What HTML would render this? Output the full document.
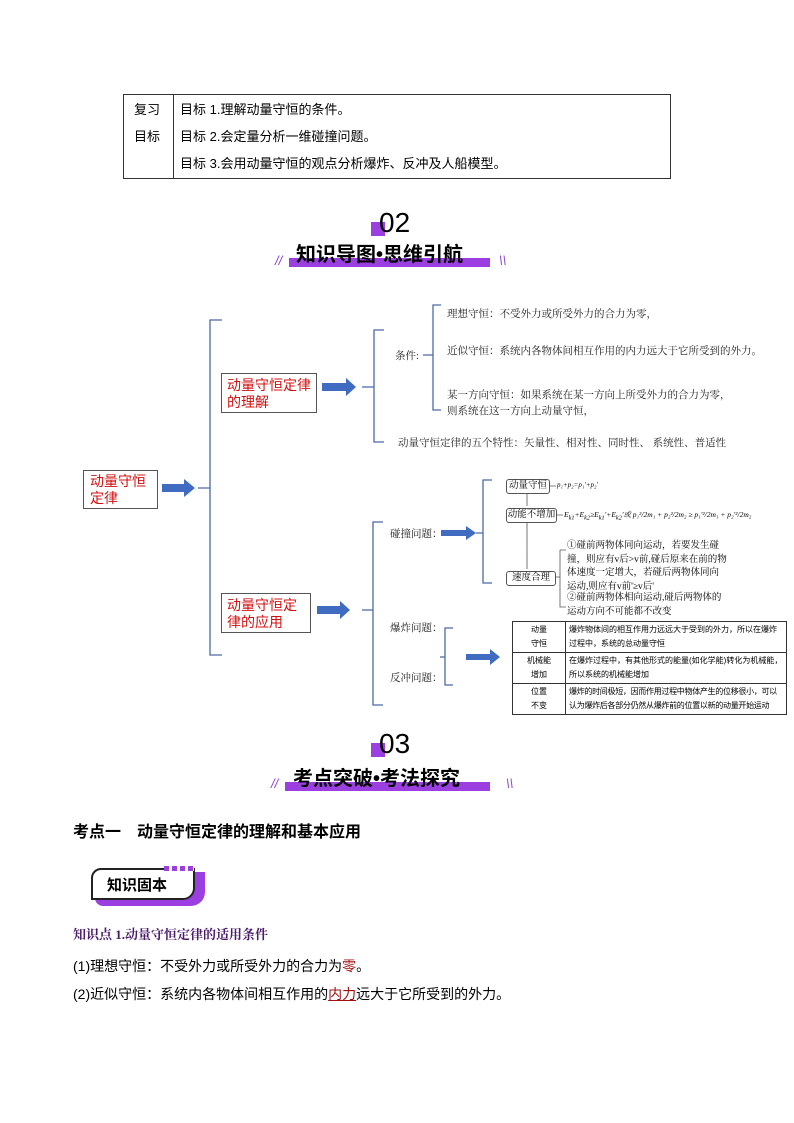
<!DOCTYPE html>
<html><head><meta charset="utf-8"><style>
body{margin:0;width:794px;height:1123px;background:#fff;position:relative;font-family:"Liberation Serif","Noto Serif CJK SC",serif;overflow:hidden}
.a{position:absolute;white-space:nowrap}
.s{font-family:"Liberation Sans","Noto Sans CJK SC",sans-serif}
.box{position:absolute;border:1px solid #555;background:#fff}
.red{color:#d01010;font-family:"Liberation Sans","Noto Sans CJK SC",sans-serif;font-size:14px;line-height:17px;white-space:nowrap}
.sm{font-size:10.5px;color:#222}
.t{table-layout:fixed}
.t td{border:1px solid #333;font-size:8px;padding:1px 3px;line-height:14px;height:27px;white-space:normal;font-family:"Liberation Sans","Noto Sans CJK SC",sans-serif;overflow:hidden}
</style></head><body>
<div class="a" style="left:123px;top:94px;width:546px;height:83px;border:1px solid #333"></div>
<div class="a" style="left:173px;top:94px;width:1px;height:84px;background:#333"></div>
<div class="a s" style="left:134px;top:96px;font-size:13px;line-height:27px">复习<br>目标</div>
<div class="a s" style="left:180px;top:96px;font-size:13px;line-height:27px">目标 1.理解动量守恒的条件。<br>目标 2.会定量分析一维碰撞问题。<br>目标 3.会用动量守恒的观点分析爆炸、反冲及人船模型。</div>
<div class="a" style="left:371px;top:222px;width:14px;height:14px;background:#9b3fe0"></div>
<div class="a s" style="left:379px;top:207px;font-size:28px;line-height:32px">02</div>
<div class="a" style="left:289px;top:258px;width:201px;height:9px;background:#9b3fe0"></div>
<div class="a s" style="left:296px;top:242px;font-size:20px;font-weight:bold;line-height:26px">知识导图•思维引航</div>
<div class="a s" style="left:275px;top:253px;font-size:13px;color:#8a3fd0;font-style:italic">//</div>
<div class="a s" style="left:499px;top:253px;font-size:13px;color:#8a3fd0;font-style:italic">\\</div>
<svg class="a" style="left:0;top:0" width="794" height="1123">
<g fill="none" stroke="#4a6aa8" stroke-width="1.3">
<path d="M222 320 H210 V655 H222 M198 488 H210"/>
<path d="M384 330 H374 V442 H384 M362 387 H374"/>
<path d="M441 305 H433 V410 H441 M423 355 H433"/>
<path d="M383 522 H373 V705 H383 M362 610 H373"/>
<path d="M492 480 H483 V583 H492 M476 533 H483"/>
<path d="M453 628 H445 V685 H453 M440 657 H445"/>
</g>
<g fill="#3f6bc0">
<path d="M162 484 H184 V479 L195 488 L184 497 V492 H162Z"/>
<path d="M322 383 H346 V378 L356 387 L346 396 V391 H322Z"/>
<path d="M317 606 H340 V601 L350 610 L340 619 V614 H317Z"/>
<path d="M441 530 H466 V526 L476 533 L466 540 V536 H441Z"/>
<path d="M466 654 H490 V649 L500 657 L490 665 V660 H466Z"/>
</g>
<g stroke="#555" fill="none" stroke-width="0.8">
<path d="M548 486 H556 M555 515 H563 M527 494 V506 M527 523 V569 M554 577 H560 M560 550 H566 M560 550 V607 H566"/>
</g>
</svg>
<div class="box red" style="left:83px;top:470px;width:75px;height:39px;padding:2px 0 0 6px;box-sizing:border-box">动量守恒<br>定律</div>
<div class="box red" style="left:221px;top:373px;width:96px;height:40px;padding:3px 0 0 5px;box-sizing:border-box">动量守恒定律<br>的理解</div>
<div class="box red" style="left:221px;top:593px;width:90px;height:40px;padding:3px 0 0 5px;box-sizing:border-box">动量守恒定<br>律的应用</div>
<div class="a sm" style="left:395px;top:348px">条件:</div>
<div class="a sm" style="left:447px;top:306px">理想守恒：不受外力或所受外力的合力为零，</div>
<div class="a sm" style="left:447px;top:343px">近似守恒：系统内各物体间相互作用的内力远大于它所受到的外力。</div>
<div class="a sm" style="left:447px;top:388px;line-height:16px">某一方向守恒：如果系统在某一方向上所受外力的合力为零，<br>则系统在这一方向上动量守恒，</div>
<div class="a sm" style="left:398px;top:435px">动量守恒定律的五个特性：矢量性、相对性、同时性、 系统性、普适性</div>
<div class="a sm" style="left:390px;top:526px">碰撞问题：</div>
<div class="a sm" style="left:390px;top:620px">爆炸问题：</div>
<div class="a sm" style="left:390px;top:670px">反冲问题：</div>
<div class="box" style="left:506px;top:479px;width:42px;height:13px;border-radius:3px;font-size:9.5px;text-align:center;line-height:13px">动量守恒</div>
<div class="box" style="left:506px;top:508px;width:49px;height:13px;border-radius:3px;font-size:9.5px;text-align:center;line-height:13px">动能不增加</div>
<div class="box" style="left:506px;top:571px;width:48px;height:13px;border-radius:3px;font-size:9.5px;text-align:center;line-height:13px">速度合理</div>
<div class="a" style="left:557px;top:481px;font-size:7px;font-style:italic">p₁+p₂=p₁'+p₂'</div>
<div class="a" style="left:564px;top:509px;font-size:7.5px;font-style:italic">E<sub>k1</sub>+E<sub>k2</sub>≥E<sub>k1</sub>'+E<sub>k2</sub>'或 p₁²/2m₁ + p₂²/2m₂ ≥ p₁'²/2m₁ + p₂'²/2m₂</div>
<div class="a" style="left:567px;top:540px;font-size:9.5px;line-height:13.5px">①碰前两物体同向运动，若要发生碰<br>撞，则应有v后&gt;v前,碰后原来在前的物<br>体速度一定增大，若碰后两物体同向<br>运动,则应有v前'≥v后'</div>
<div class="a" style="left:567px;top:592px;font-size:9.5px;line-height:13.5px">②碰前两物体相向运动,碰后两物体的<br>运动方向不可能都不改变</div>
<table class="a t" style="left:512px;top:621px;width:274px;border-collapse:collapse">
<colgroup><col style="width:53px"><col style="width:221px"></colgroup>
<tr><td style="text-align:center">动量<br>守恒</td><td>爆炸物体间的相互作用力远远大于受到的外力，所以在爆炸过程中，系统的总动量守恒</td></tr>
<tr><td style="text-align:center">机械能<br>增加</td><td>在爆炸过程中，有其他形式的能量(如化学能)转化为机械能，所以系统的机械能增加</td></tr>
<tr><td style="text-align:center">位置<br>不变</td><td style="letter-spacing:-0.3px">爆炸的时间极短，因而作用过程中物体产生的位移很小，可以认为爆炸后各部分仍然从爆炸前的位置以新的动量开始运动</td></tr>
</table>
<div class="a" style="left:371px;top:743px;width:14px;height:14px;background:#9b3fe0"></div>
<div class="a s" style="left:379px;top:728px;font-size:28px;line-height:32px">03</div>
<div class="a" style="left:285px;top:782px;width:205px;height:9px;background:#9b3fe0"></div>
<div class="a s" style="left:293px;top:766px;font-size:20px;font-weight:bold;line-height:26px">考点突破•考法探究</div>
<div class="a s" style="left:271px;top:776px;font-size:13px;color:#8a3fd0;font-style:italic">//</div>
<div class="a s" style="left:506px;top:776px;font-size:13px;color:#8a3fd0;font-style:italic">\\</div>
<div class="a s" style="left:73px;top:818px;font-size:16px;font-weight:bold">考点一　动量守恒定律的理解和基本应用</div>
<div class="a" style="left:95px;top:872px;width:110px;height:34px;background:#9b3fe0;border-radius:0 0 14px 8px"></div>
<div class="a s" style="left:91px;top:868px;width:104px;height:32px;border:2px solid #222;background:#fff;border-radius:10px 0 12px 0;font-size:15px;font-weight:bold;line-height:32px;padding-left:14px;box-sizing:border-box">知识固本</div>
<div class="a" style="left:164px;top:866px;width:30px;height:5px;background:repeating-linear-gradient(90deg,#9b3fe0 0 5px,#fff 5px 8px)"></div>
<div class="a" style="left:73px;top:924px;font-size:13px;font-weight:bold;color:#4a1a6a">知识点 1.动量守恒定律的适用条件</div>
<div class="a s" style="left:73px;top:956px;font-size:14px">(1)理想守恒：不受外力或所受外力的合力为<span style="color:#a01010">零</span>。</div>
<div class="a s" style="left:73px;top:984px;font-size:14px">(2)近似守恒：系统内各物体间相互作用的<span style="color:#a01010;text-decoration:underline">内力</span>远大于它所受到的外力。</div>
</body></html>
